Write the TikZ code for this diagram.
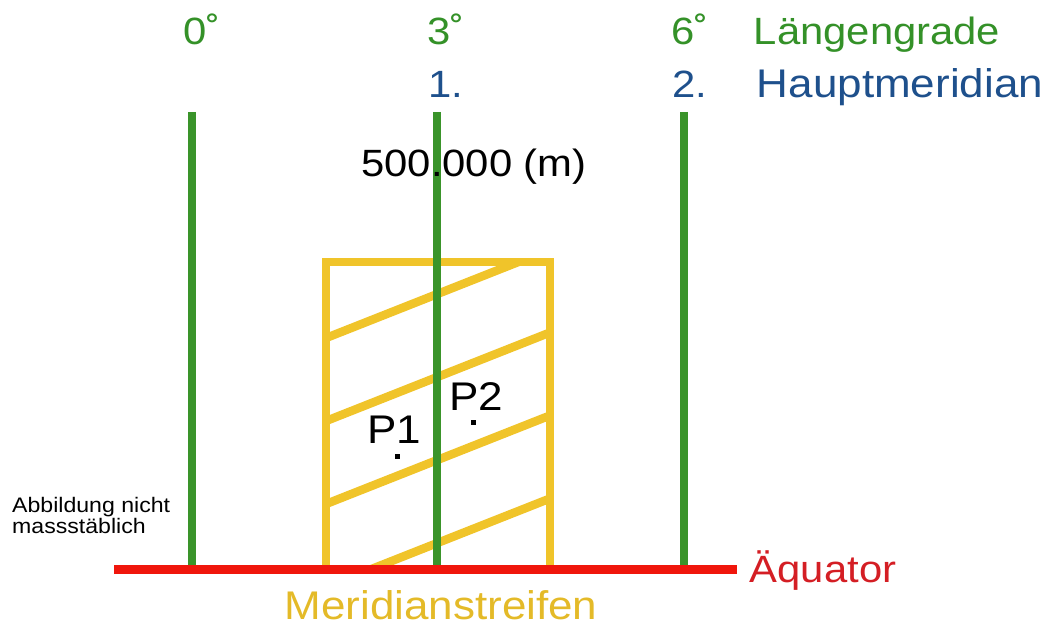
\documentclass[tikz,border=0pt]{standalone}
\usepackage{fontspec}
\setmainfont{Liberation Sans}[FakeStretch=1.1]
\usetikzlibrary{positioning}
\definecolor{merigreen}{RGB}{58,148,42}
\definecolor{txtgreen}{RGB}{52,145,40}
\definecolor{hmblue}{RGB}{30,80,140}
\definecolor{equred}{RGB}{240,22,12}
\definecolor{txtred}{RGB}{212,30,36}
\definecolor{stripyellow}{RGB}{240,196,42}

\begin{document}
\begin{tikzpicture}[
			x=1pt, y=-1pt,
			meridian/.style={draw=merigreen, line width=8pt},
			equator/.style={draw=equred, line width=9pt},
			strip/.style={draw=stripyellow, line width=8.5pt},
			biglabel/.style={font=\fontsize{38}{40}\selectfont, inner sep=0pt, anchor=base},
			widelabel/.style={biglabel, font=\fontsize{40}{42}\selectfont},
			smalllabel/.style={font=\fontsize{21}{18}\selectfont, inner sep=0pt, align=left, anchor=base west},
			pointdot/.style={rectangle, fill=black, minimum size=5pt, inner sep=0pt}
			]
			\useasboundingbox (0,0) rectangle (1053,628);
			
			% Meridianstreifen
			\coordinate (sw) at (326,569);
			\coordinate (nw) at (326,262);
			\coordinate (ne) at (550,262);
			\coordinate (se) at (550,569);
			\begin{scope}
				\clip (nw) rectangle (se);
				\foreach \c in {338,421,504,587}
				\draw[strip] (326,\c) -- (550,{\c-88.5});
			\end{scope}
			\draw[strip] (sw) -- (nw) -- (ne) -- (se);
			
			% Laengengrade
			\foreach \x/\n in {192/0, 437/3, 684/6} {
				\coordinate (top\n) at (\x,112);
				\coordinate (foot\n) at (\x,569);
				\draw[meridian] (top\n) -- (foot\n);
			}
			
			% Aequator
			\coordinate (eqW) at (114,569);
			\coordinate (eqE) at (737,569);
			\draw[equator] (eqW) -- (eqE);
			
			\node[biglabel, anchor=base west, text=txtgreen] (deg0) at (183,45) {0˚};
			\node[biglabel, anchor=base west, text=txtgreen] (deg3) at (427,45) {3˚};
			\node[biglabel, anchor=base west, text=txtgreen] (deg6) at (671,45) {6˚};
			\node[biglabel, text=txtgreen] (lg) at (877,45) {Längengrade};
			\node[biglabel, anchor=base west, text=hmblue] (hm1) at (428,98) {1.};
			\node[biglabel, anchor=base west, text=hmblue] (hm2) at (672,98) {2.};
			\node[widelabel, text=hmblue] (hm) at (900,98) {Hauptmeridian};
			\node[biglabel] (false) at (474,177) {500.000 (m)};
			\node[biglabel, text=txtred] (eq) at (823,582) {Äquator};
			\node[widelabel, text=stripyellow!95!black] (ms) at (441,619) {Meridianstreifen};
			\node[smalllabel] (note) at (12,533) {Abbildung nicht\\massstäblich};
			
			% Punkte
			\node[pointdot] (p1) at (397,456) {};
			\node[pointdot] (p2) at (473,423) {};
			\node[widelabel] (p1lab) at (394,443) {P1};
			\node[widelabel] (p2lab) at (476,411) {P2};
		\end{tikzpicture}
\end{document}
